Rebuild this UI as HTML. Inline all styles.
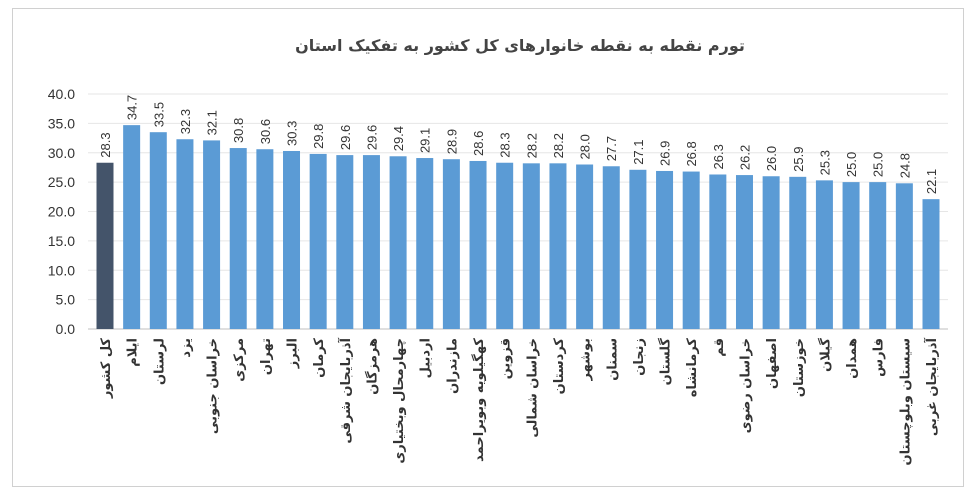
<!DOCTYPE html>
<html><head><meta charset="utf-8">
<style>
body{margin:0;background:#fff;width:975px;height:498px;overflow:hidden;font-family:"Liberation Sans","Noto Sans CJK SC",sans-serif;}
#frame{position:absolute;left:12px;top:8px;width:950px;height:477px;border:1px solid #d0d0d0;background:#fff;}
#title{position:absolute;left:60px;top:36px;width:920px;text-align:center;font-size:16px;font-weight:bold;color:#444;direction:rtl;font-family:"DejaVu Sans",sans-serif;}
</style></head><body>
<div id="frame"></div>
<div id="title">تورم  نقطه به نقطه خانوارهای کل کشور به تفکیک استان</div>
<svg id="chart" width="975" height="498" style="position:absolute;left:0;top:0"></svg>
<script>
const categories=["کل کشور","ایلام","لرستان","یزد","خراسان جنوبی","مرکزی","تهران","البرز","کرمان","آذربایجان شرقی","هرمزگان","چهارمحال وبختیاری","اردبیل","مازندران","کهگیلویه وبویراحمد","قزوین","خراسان شمالی","کردستان","بوشهر","سمنان","زنجان","گلستان","کرمانشاه","قم","خراسان رضوی","اصفهان","خوزستان","گیلان","همدان","فارس","سیستان وبلوچستان","آذربایجان غربی"];
const values=[28.3,34.7,33.5,32.3,32.1,30.8,30.6,30.3,29.8,29.6,29.6,29.4,29.1,28.9,28.6,28.3,28.2,28.2,28.0,27.7,27.1,26.9,26.8,26.3,26.2,26.0,25.9,25.3,25.0,25.0,24.8,22.1];
const yTicks=[0,5,10,15,20,25,30,35,40];
const NS="http://www.w3.org/2000/svg";
const svg=document.getElementById('chart');
const y0=329,y40=94,x0=105,x1=931;
const y=v=>y0-(v/40)*(y0-y40);
const x=i=>x0+i*(x1-x0)/(categories.length-1);
function mk(t,a){const e=document.createElementNS(NS,t);for(const k in a)e.setAttribute(k,a[k]);svg.appendChild(e);return e;}
yTicks.forEach(t=>{
  const g=mk('line',{x1:88,x2:948,y1:y(t),y2:y(t),stroke:t===0?'#bfbfbf':'#e6e6e6','stroke-width':1});
  
  
  const tx=mk('text',{x:75,y:y(t)+5,'text-anchor':'end','font-size':14,fill:'#333'});
  tx.textContent=t.toFixed(1);
  
  
});
values.forEach((v,i)=>{
  const r=mk('rect',{x:x(i)-8.5,y:y(v),width:17,height:y0-y(v),fill:i===0?'#44546a':'#5b9bd5'});
  
  
  const vt=mk('text',{x:x(i)+5,y:y(v)-5,'font-size':13,fill:'#333',transform:`rotate(-90 ${x(i)+5} ${y(v)-5})`});
  vt.textContent=v.toFixed(1);
  
  
  const ct=mk('text',{x:x(i)+5,y:338,'font-size':13,'font-weight':'bold',fill:'#333','text-anchor':'start',direction:'rtl',transform:`rotate(-90 ${x(i)+5} 338)`,'font-family':'DejaVu Sans, sans-serif'});
  ct.textContent=categories[i];
  
  
});
</script>
</body></html>
